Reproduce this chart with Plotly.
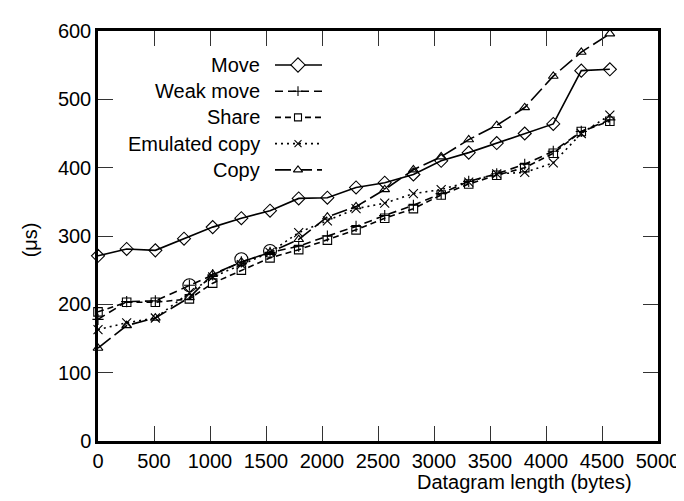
import plotly.graph_objects as go

# ---- data ----
x_move = [0, 256, 512, 768, 1024, 1280, 1536, 1792, 2048, 2304, 2560, 2816, 3064, 3310, 3560, 3810, 4065, 4315, 4570]
x_other = [0, 256, 512, 816, 1024, 1280, 1536, 1792, 2048, 2304, 2560, 2816, 3064, 3310, 3560, 3810, 4065, 4315, 4570]

move = [271, 281, 279, 296, 313, 326, 337, 355, 356, 371, 378, 390, 410, 422, 436, 450, 464, 542, 544]
weak_move = [178, 204, 205, 228, 243, 262, 276, 285, 300, 314, 330, 345, 362, 380, 391, 405, 424, 453, 470]
share = [189, 203, 203, 208, 231, 250, 268, 280, 294, 309, 326, 340, 360, 376, 389, 400, 421, 453, 468]
emulated_copy = [163, 173, 180, 217, 240, 258, 276, 305, 322, 340, 348, 362, 368, 379, 391, 393, 407, 450, 477]
copy = [136, 169, 180, 210, 244, 262, 276, 295, 328, 343, 368, 397, 416, 441, 462, 488, 534, 569, 596]

# highlighted points drawn with circles (no legend entry)
x_circles = [816, 1280, 1536]
circles = [228, 266, 278]

names = ["Move", "Weak move", "Share", "Emulated copy", "Copy"]
x_ticks = [0, 500, 1000, 1500, 2000, 2500, 3000, 3500, 4000, 4500, 5000]
y_ticks = [0, 100, 200, 300, 400, 500, 600]

FONT = "Liberation Sans, Arial, Helvetica, sans-serif"
FS = 20

styles = {
    "Move": dict(dash="solid", symbol="diamond-open", size=10, lsize=11),
    "Weak move": dict(dash="8px,5px", symbol="cross-thin-open", size=8, lsize=7),
    "Share": dict(dash="6px,4px", symbol="square-open", size=8.5, lsize=7),
    "Emulated copy": dict(dash="2px,4px", symbol="x-thin-open", size=9, lsize=7),
    "Copy": dict(dash="16px,5px", symbol="triangle-up-open", size=8.5, lsize=8),
}

series = {
    "Move": (x_move, move),
    "Weak move": (x_other, weak_move),
    "Share": (x_other, share),
    "Emulated copy": (x_other, emulated_copy),
    "Copy": (x_other, copy),
}

fig = go.Figure()
for n in names:
    xs, ys = series[n]
    st = styles[n]
    fig.add_trace(go.Scatter(
        x=xs, y=ys, name=n, mode="lines+markers", showlegend=False,
        line=dict(color="black", width=1.6, dash=st["dash"]),
        marker=dict(symbol=st["symbol"], size=st["size"], color="black",
                    line=dict(color="black", width=1.1)),
        cliponaxis=False,
    ))

fig.add_trace(go.Scatter(
    x=x_circles, y=circles, mode="markers", showlegend=False,
    marker=dict(symbol="circle-open", size=13, color="black", line=dict(color="black", width=1.1)),
    cliponaxis=False,
))

# ---- custom legend (text on the left, sample on the right) in pixel-like helper axes ----
leg_top = 56.7
leg_step = 26.8
for i, n in enumerate(names):
    st = styles[n]
    yy = leg_top + i * leg_step
    fig.add_trace(go.Scatter(
        x=[275, 322], y=[yy, yy], xaxis="x2", yaxis="y2", mode="lines", showlegend=False,
        line=dict(color="black", width=1.6, dash=st["dash"]), hoverinfo="skip",
    ))
    if n in ("Move", "Share", "Copy"):
        mk = dict(symbol=st["symbol"].replace("-open", ""), size=st["lsize"], color="white",
                  line=dict(color="black", width=1.1))
    else:
        mk = dict(symbol=st["symbol"], size=st["lsize"], color="black", line=dict(color="black", width=1.1))
    fig.add_trace(go.Scatter(
        x=[298], y=[yy], xaxis="x2", yaxis="y2", mode="markers", showlegend=False,
        marker=mk, hoverinfo="skip",
    ))
    fig.add_annotation(
        x=262, y=yy, xref="x2", yref="y2", text=n, showarrow=False,
        xanchor="right", yanchor="middle", font=dict(family=FONT, size=FS, color="black"),
    )

axis_common = dict(
    showgrid=False, zeroline=False, showline=True, linecolor="black", linewidth=2.5,
    mirror="ticks", ticks="inside", ticklen=15, tickwidth=1, tickcolor="#333",
    tickfont=dict(family=FONT, size=FS, color="black"),
)

fig.update_layout(
    width=684, height=501,
    margin=dict(l=90, r=34, t=14, b=68),
    paper_bgcolor="white", plot_bgcolor="white",
    showlegend=False,
    xaxis=dict(range=[0, 5000], tickvals=x_ticks, ticktext=[str(v) for v in x_ticks], **axis_common),
    yaxis=dict(range=[0, 600], tickvals=y_ticks, ticktext=[str(v) for v in y_ticks], **axis_common),
    xaxis2=dict(range=[98, 658], overlaying="x", visible=False, fixedrange=True),
    yaxis2=dict(range=[441, 22], overlaying="y", visible=False, fixedrange=True),
)

fig.add_annotation(
    x=-0.121, y=0.49, xref="paper", yref="paper", text="(μs)", textangle=-90,
    showarrow=False, xanchor="center", yanchor="middle",
    font=dict(family=FONT, size=FS, color="black"),
)
fig.add_annotation(
    x=0.957, y=-0.1, xref="paper", yref="paper", text="Datagram length (bytes)",
    showarrow=False, xanchor="right", yanchor="middle",
    font=dict(family=FONT, size=FS, color="black"),
)

fig.write_html("out.html")
